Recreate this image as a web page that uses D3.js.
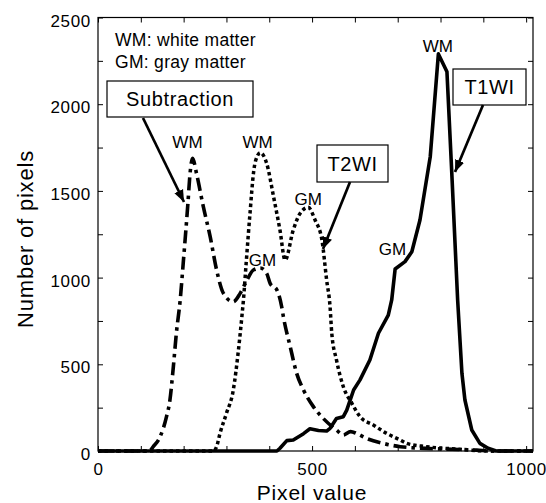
<!DOCTYPE html>
<html>
<head>
<meta charset="utf-8">
<script src="https://cdn.jsdelivr.net/npm/d3@7"></script>
<style>
  body { margin: 0; background: #fff; }
  text { font-family: "Liberation Sans", Arial, Helvetica, sans-serif; fill: #000; }
</style>
</head>
<body>
<svg width="546" height="503"></svg>
<script>
// histogram values: [pixel value, number of pixels]
const t1wi = [[0,0],[418,0],[425,16],[441,60],[456,63],[480,100],[495,128],[515,118],[534,115],[542,131],
  [557,188],[573,198],[581,236],[597,352],[612,410],[635,525],[655,679],[678,784],[686,871],[694,1050],
  [717,1092],[733,1149],[752,1332],[776,1697],[795,2290],[815,2187],[826,1620],[840,871],[850,448],
  [857,294],[873,121],[892,44],[911,16],[930,0],[1016,0]];

const t2wi = [[0,0],[270,0],[277,25],[285,102],[300,217],[316,352],[328,582],[336,774],[340,880],[346,1082],
  [355,1370],[364,1620],[372,1700],[379,1720],[394,1659],[410,1467],[425,1274],[437,1101],[456,1274],
  [472,1370],[491,1405],[507,1332],[523,1217],[534,986],[542,832],[546,679],[557,525],[573,371],[593,275],
  [612,198],[643,150],[674,102],[706,63],[721,44],[767,25],[846,10],[910,0],[1016,0]];

const subtraction = [[0,0],[120,0],[129,25],[145,82],[160,198],[168,294],[176,486],[183,679],[192,871],
  [199,1082],[210,1428],[215,1601],[221,1688],[230,1601],[246,1409],[262,1236],[277,1044],[293,909],
  [316,861],[332,909],[348,986],[363,1044],[379,1055],[394,1024],[402,967],[418,928],[429,832],[433,774],
  [449,601],[464,448],[480,352],[503,256],[526,188],[557,121],[573,92],[590,112],[605,100],[627,73],
  [666,44],[706,25],[767,15],[885,5],[920,0],[1016,0]];

const xTicks = [0,100,200,300,400,500,600,700,800,900,1000];
const yTicks = [0,250,500,750,1000,1250,1500,1750,2000,2250,2500];

// peak labels in data units: [pixel value, count at text baseline, text]
const peakLabels = [[209,1747,'WM'],[373,1747,'WM'],[491,1419,'GM'],[384,1067,'GM'],[794,2301,'WM'],[688,1130,'GM']];

const svg = d3.select('svg');
const x = d3.scaleLinear().domain([0, 1016]).range([98, 533]);
const y = d3.scaleLinear().domain([0, 2500]).range([451, 17.5]);

const fontTick = 17;

// axes with inward ticks, MATLAB style
svg.append('g').attr('transform', 'translate(0,451)')
  .call(d3.axisBottom(x).tickValues(xTicks).tickSize(-5).tickPadding(12)
    .tickFormat(d => d % 500 === 0 ? d : ''));
svg.append('g').attr('transform', 'translate(0,17.5)')
  .call(d3.axisTop(x).tickValues(xTicks).tickSize(-5).tickFormat(''));
const yAxisL = svg.append('g').attr('transform', 'translate(98,0)')
  .call(d3.axisLeft(y).tickValues(yTicks).tickSize(-5).tickPadding(7)
    .tickFormat(d => d % 500 === 0 ? d : ''));
svg.append('g').attr('transform', 'translate(533,0)')
  .call(d3.axisRight(y).tickValues(yTicks).tickSize(-5).tickFormat(''));

svg.selectAll('.domain').remove();
svg.selectAll('.tick line').attr('stroke', '#000');
svg.selectAll('.tick text')
  .attr('font-family', '"Liberation Sans", Arial, sans-serif')
  .attr('font-size', fontTick)
  .attr('letter-spacing', 0.7)
  .attr('fill', '#000');
yAxisL.selectAll('.tick text').attr('dy', '0.5em');

svg.append('rect')
  .attr('x', 98).attr('y', 17.5)
  .attr('width', 435).attr('height', 433.5)
  .attr('fill', 'none').attr('stroke', '#000').attr('stroke-width', 1.2);

// axis titles
svg.append('text')
  .attr('x', 312).attr('y', 500)
  .attr('text-anchor', 'middle')
  .attr('font-size', 21).attr('letter-spacing', 0.8)
  .text('Pixel value');

svg.append('text')
  .attr('transform', 'translate(33,239) rotate(-90)')
  .attr('text-anchor', 'middle')
  .attr('font-size', 22).attr('letter-spacing', 0.8)
  .text('Number of pixels');

// curves
const line = d3.line().x(d => x(d[0])).y(d => y(d[1]));
const plot = svg.append('g');

plot.append('path').datum(subtraction)
  .attr('d', line.curve(d3.curveMonotoneX))
  .attr('fill', 'none').attr('stroke', '#000').attr('stroke-width', 3.6)
  .attr('stroke-dasharray', '13,5,3.5,5');

plot.append('path').datum(t2wi)
  .attr('d', line.curve(d3.curveMonotoneX))
  .attr('fill', 'none').attr('stroke', '#000').attr('stroke-width', 3.5)
  .attr('stroke-dasharray', '3.5,3');

plot.append('path').datum(t1wi)
  .attr('d', line.curve(d3.curveLinear))
  .attr('fill', 'none').attr('stroke', '#000').attr('stroke-width', 3.6)
  .attr('stroke-linejoin', 'round');

// peak labels
svg.selectAll('.peak').data(peakLabels).enter().append('text')
  .attr('class', 'peak')
  .attr('x', d => x(d[0]))
  .attr('y', d => y(d[1]))
  .attr('text-anchor', 'middle')
  .attr('font-size', 17)
  .text(d => d[2]);

// legend text
svg.append('text').attr('x', 115).attr('y', 46).attr('font-size', 17.5).attr('letter-spacing', 0.3)
  .text('WM: white matter');
svg.append('text').attr('x', 115).attr('y', 68).attr('font-size', 17.5).attr('letter-spacing', 0.3)
  .text('GM: gray matter');

// arrowhead marker
svg.append('defs').append('marker')
  .attr('id', 'arrow')
  .attr('viewBox', '0 0 10 10')
  .attr('refX', 10).attr('refY', 5)
  .attr('markerWidth', 12).attr('markerHeight', 12)
  .attr('markerUnits', 'userSpaceOnUse')
  .attr('orient', 'auto')
  .append('path').attr('d', 'M0,1 L10,5 L0,9 Z').attr('fill', '#000');

// callout boxes: label, box x, y, w, h, arrow start, arrow tip
const callouts = [
  {label: 'Subtraction', bx: 107, by: 81, bw: 146, bh: 36, ax: 143, ay: 118, tx: 184, ty: 202},
  {label: 'T2WI', bx: 317, by: 145, bw: 71, bh: 37, ax: 350, ay: 182, tx: 323, ty: 249},
  {label: 'T1WI', bx: 453, by: 69, bw: 73, bh: 36, ax: 483, ay: 105, tx: 455, ty: 172}
];

callouts.forEach(c => {
  svg.append('rect')
    .attr('x', c.bx).attr('y', c.by).attr('width', c.bw).attr('height', c.bh)
    .attr('fill', '#fff').attr('stroke', '#000').attr('stroke-width', 1.2);
  svg.append('text')
    .attr('x', c.bx + c.bw / 2).attr('y', c.by + c.bh / 2 + 7)
    .attr('text-anchor', 'middle')
    .attr('font-size', 20).attr('letter-spacing', 0.6)
    .text(c.label);
  svg.append('line')
    .attr('x1', c.ax).attr('y1', c.ay).attr('x2', c.tx).attr('y2', c.ty)
    .attr('stroke', '#000').attr('stroke-width', 2.7)
    .attr('marker-end', 'url(#arrow)');
});
</script>
</body>
</html>
